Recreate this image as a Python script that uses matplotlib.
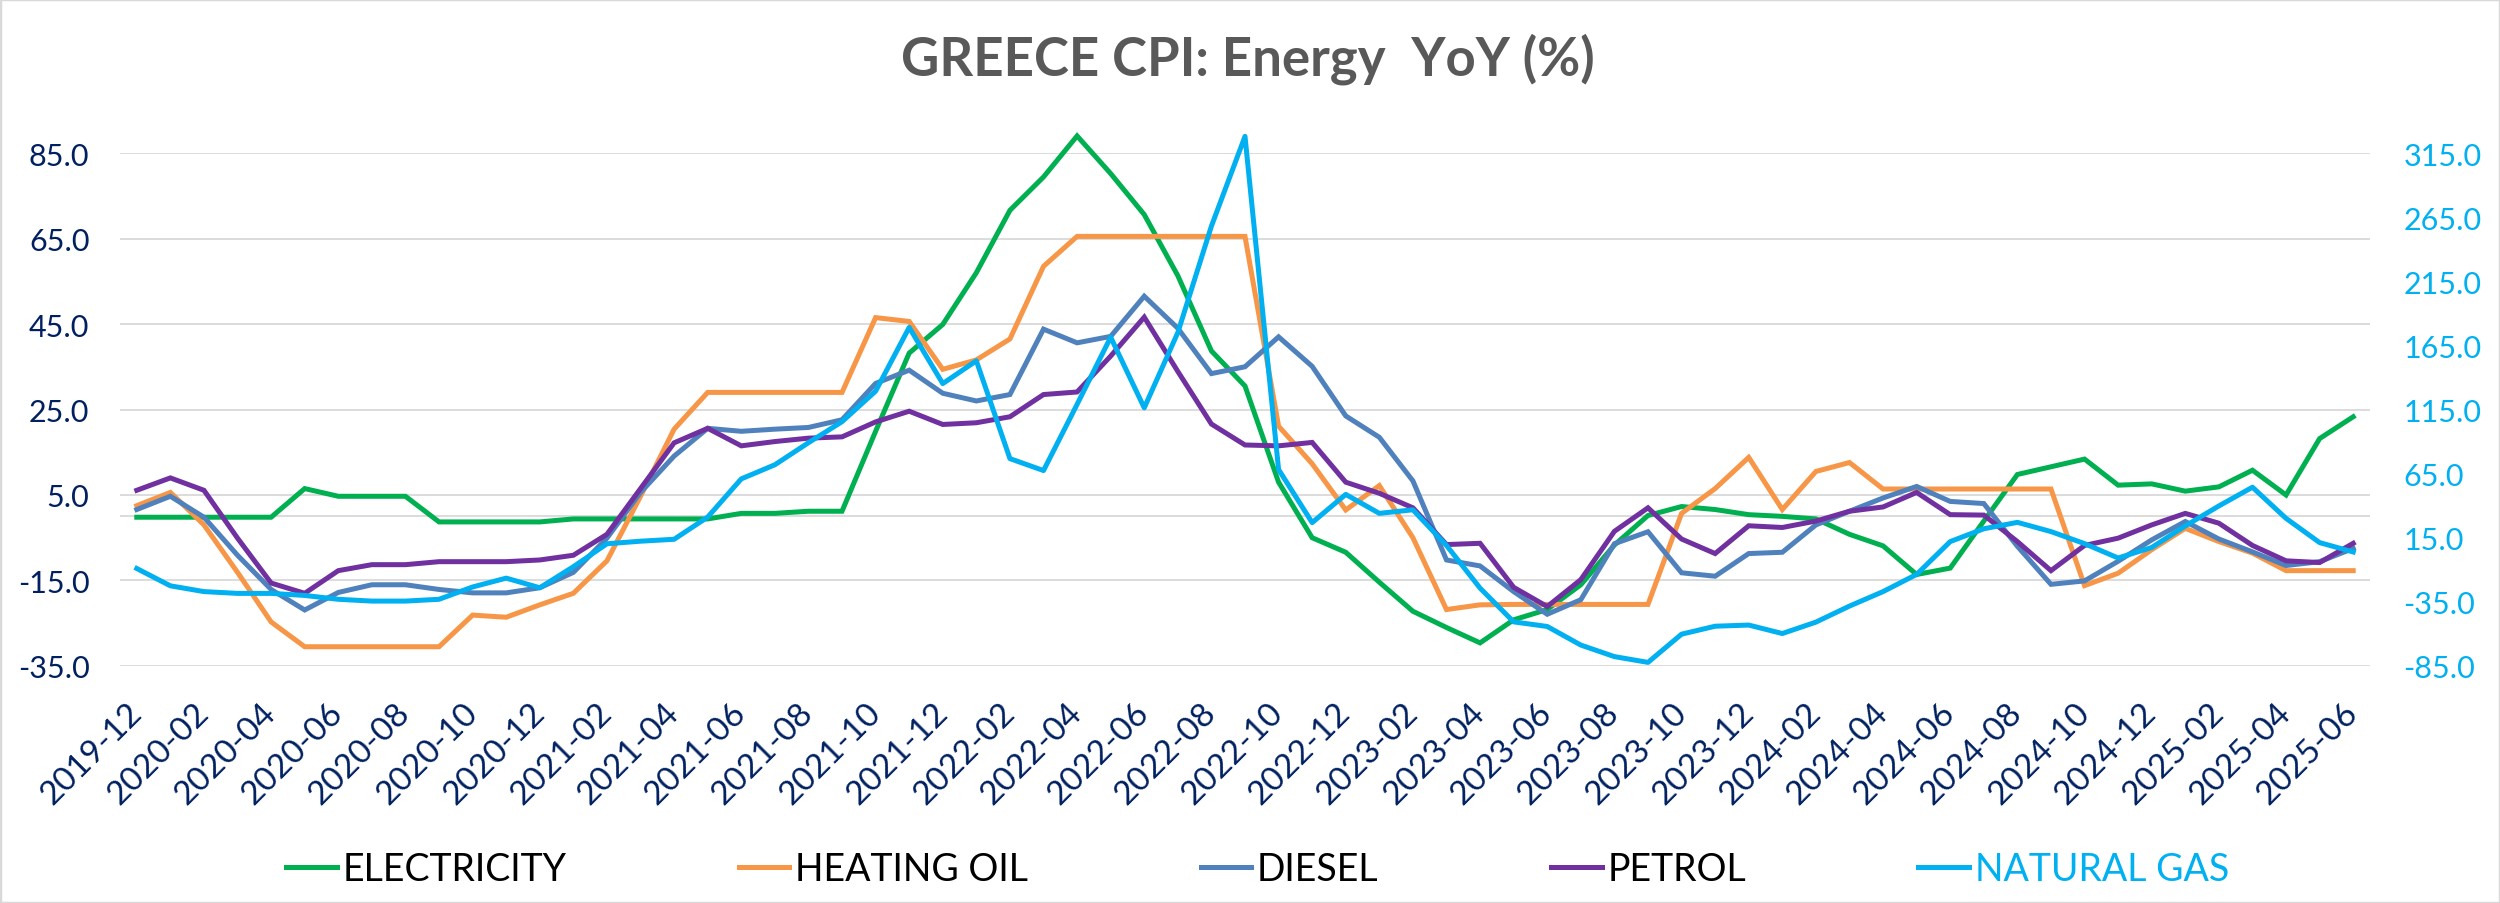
import matplotlib
matplotlib.use("Agg")
import matplotlib.pyplot as plt
import matplotlib.patches as patches
import numpy as np
import pandas as pd

plt.rcParams['font.family'] = ['Lato', 'DejaVu Sans']

months = [str(p) for p in pd.period_range('2019-12', '2025-06', freq='M')]

electricity = [-0.2, -0.2, -0.2, -0.2, -0.2, 6.5, 4.7, 4.7, 4.7, -1.3,
               -1.3, -1.3, -1.3, -0.6, -0.6, -0.6, -0.6, -0.6, 0.7, 0.7,
               1.2, 1.2, 19.9, 38.2, 44.9, 57.0, 71.6, 79.4, 89.0, 80.2,
               70.6, 56.3, 38.7, 30.5, 8.0, -5.0, -8.4, -15.4, -22.2, -26.0,
               -29.6, -24.2, -21.8, -16.0, -6.7, 0.2, 2.3, 1.6, 0.4, 0.0,
               -0.6, -4.2, -6.9, -13.6, -12.1, -1.1, 9.8, 11.6, 13.4, 7.3,
               7.6, 5.9, 6.9, 10.8, 5.0, 18.2, 23.3]

heating_oil = [2.5, 5.6, -2.0, -13.1, -24.7, -30.5, -30.5, -30.5, -30.5, -30.5,
               -23.1, -23.6, -20.7, -18.0, -10.4, 4.7, 20.4, 29.0, 29.0, 29.0,
               29.0, 29.0, 46.5, 45.6, 34.4, 36.6, 41.5, 58.5, 65.5, 65.5,
               65.5, 65.5, 65.5, 65.5, 21.1, 12.3, 1.5, 7.2, -5.0, -21.8,
               -20.7, -20.6, -20.6, -20.6, -20.6, -20.6, 0.7, 6.5, 13.8, 1.6,
               10.5, 12.6, 6.4, 6.4, 6.4, 6.4, 6.4, 6.4, -16.2, -13.3,
               -7.8, -2.8, -5.9, -8.6, -12.7, -12.7, -12.7]

diesel = [1.6, 4.7, -0.2, -9.1, -17.1, -21.9, -17.8, -16.0, -16.0, -17.1,
          -17.9, -17.9, -16.7, -13.1, -5.1, 5.6, 14.1, 20.6, 19.9, 20.4,
          20.8, 22.6, 31.1, 34.2, 28.8, 27.0, 28.5, 43.8, 40.6, 42.1,
          51.5, 44.0, 33.4, 35.0, 42.0, 35.1, 23.5, 18.5, 8.3, -10.2,
          -11.6, -17.6, -22.9, -19.5, -6.4, -3.6, -13.2, -14.0, -8.7, -8.4,
          -2.0, 1.2, 4.3, 7.0, 3.5, 3.0, -7.0, -15.9, -15.1, -10.5,
          -5.5, -1.2, -5.3, -8.3, -11.5, -10.6, -7.5]

petrol = [6.1, 9.0, 6.1, -5.1, -15.6, -18.0, -12.7, -11.3, -11.3, -10.6,
          -10.6, -10.6, -10.2, -9.1, -4.2, 6.5, 17.2, 20.6, 16.5, 17.5,
          18.3, 18.6, 22.1, 24.6, 21.5, 21.9, 23.3, 28.5, 29.1, 37.5,
          46.6, 33.9, 21.6, 16.7, 16.5, 17.3, 8.0, 5.4, 2.0, -6.6,
          -6.3, -16.6, -21.1, -14.8, -3.5, 2.0, -5.3, -8.7, -2.2, -2.6,
          -1.1, 1.2, 2.2, 5.6, 0.4, 0.3, -5.9, -12.7, -6.8, -5.1,
          -2.0, 0.7, -1.6, -6.8, -10.4, -10.8, -6.3]

natural_gas = [-9.0, -22.5, -27.0, -28.4, -28.4, -30.0, -33.0, -34.4, -34.4, -33.0,
               -23.4, -16.5, -24.0, -7.6, 10.3, 12.3, 13.8, 31.1, 60.9, 71.9,
               89.1, 105.5, 129.3, 179.0, 135.2, 153.0, 76.7, 67.4, 119.0, 171.4,
               116.3, 175.0, 258.0, 328.0, 68.2, 26.8, 48.8, 34.0, 36.8, 9.0,
               -24.3, -50.6, -54.2, -68.7, -77.7, -82.2, -60.2, -54.0, -53.1, -59.7,
               -50.8, -38.3, -27.0, -13.6, 12.0, 22.0, 27.0, 19.8, 10.4, -0.8,
               7.4, 24.2, 39.8, 54.4, 30.1, 11.2, 3.9]

left_ticks = [-35, -15, 5, 25, 45, 65, 85]
right_ticks = [-85, -35, 15, 65, 115, 165, 215, 265, 315]

primary = [("ELECTRICITY", electricity, "#00B050"),
           ("HEATING OIL", heating_oil, "#F79646"),
           ("DIESEL", diesel, "#4F81BD"),
           ("PETROL", petrol, "#7030A0")]
gas_color = "#00B0F0"
navy = "#002060"
grid_c = "#D9D9D9"

fig = plt.figure(figsize=(25, 9.04), dpi=100)
ax = fig.add_axes([0.048, 0.2622, 0.9, 0.5674])
ax2 = ax.twinx()

x = np.arange(len(months))
handles = []
for name, vals, col in primary:
    h, = ax.plot(x, vals, color=col, lw=3.6, label=name, clip_on=False,
                 solid_joinstyle='miter', zorder=3)
    handles.append(h)
hg, = ax2.plot(x, natural_gas, color=gas_color, lw=3.6, label="NATURAL GAS",
               clip_on=False, zorder=3)
handles.append(hg)

ax.set_xlim(-0.5, len(months) - 0.5)
ax.set_ylim(-35, 85)
ax2.set_ylim(-85, 315)
ax.set_yticks(left_ticks)
ax.set_yticklabels([f"{v:.1f}" for v in left_ticks])
ax2.set_yticks(right_ticks)
ax2.set_yticklabels([f"{v:.1f}" for v in right_ticks])

ax.set_xticks(x[::2])
ax.set_xticklabels(months[::2], rotation=45, rotation_mode='anchor',
                   ha='right', va='center')

ax.grid(axis='y', color=grid_c, lw=1.3, zorder=0)
ax.axhline(0, color=grid_c, lw=1.3, zorder=1)
ax.set_axisbelow(True)

for a in (ax, ax2):
    for s in a.spines.values():
        s.set_visible(False)

ax.tick_params(axis='y', length=0, pad=22, labelsize=22, labelcolor=navy)
ax.tick_params(axis='x', length=0, pad=30, labelsize=24, labelcolor=navy)
ax2.tick_params(axis='y', length=0, pad=24, labelsize=22, labelcolor=gas_color)

fig.text(0.499, 0.916, "GREECE CPI: Energy  YoY (%)", ha='center', va='baseline',
         fontsize=38, fontweight='bold', color='#595959')

leg = fig.legend(handles=handles, loc='center', bbox_to_anchor=(0.503, 0.0376),
                 ncol=5, frameon=False, fontsize=27, handlelength=1.35,
                 handletextpad=0.15, columnspacing=4.6)
for t in leg.get_texts():
    t.set_color('black')
leg.get_texts()[-1].set_color(gas_color)

fig.patches.append(patches.Rectangle((0, 0), 1, 1, transform=fig.transFigure,
                                     fill=False, ec=grid_c, lw=2.5))

fig.savefig("out.png", dpi=100, facecolor='white')
